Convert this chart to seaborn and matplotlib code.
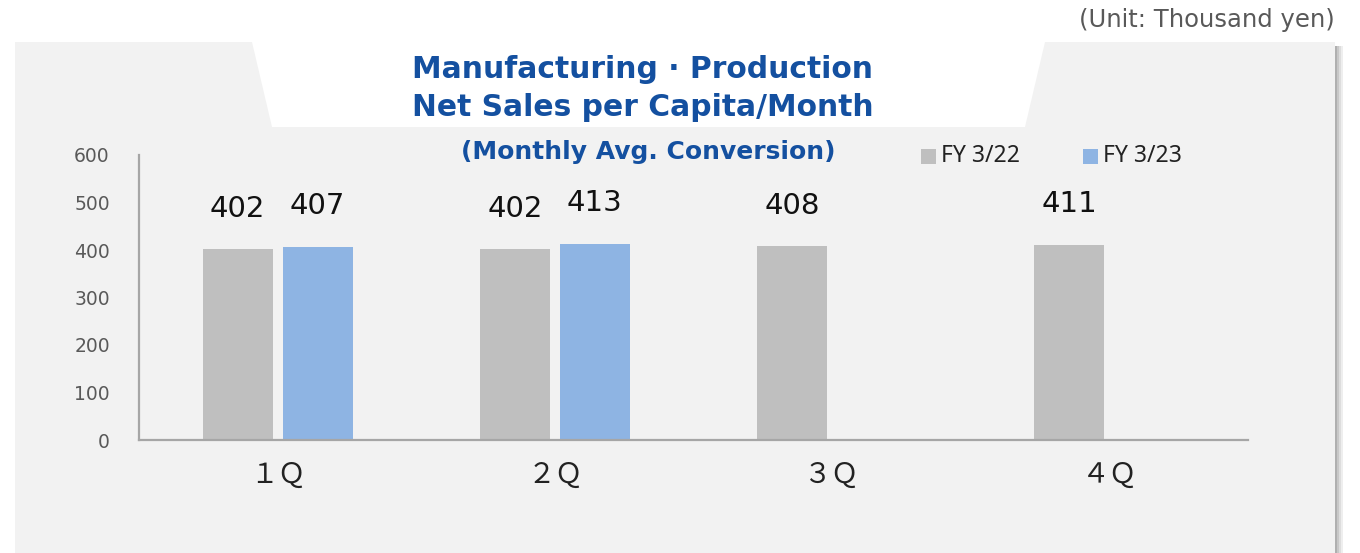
import pandas as pd
import matplotlib
matplotlib.use("Agg")
import matplotlib.pyplot as plt
import seaborn as sns
from matplotlib.patches import Polygon, Rectangle

# chart data
quarters = ["１Ｑ", "２Ｑ", "３Ｑ", "４Ｑ"]
series = ["FY 3/22", "FY 3/23"]
fy22 = [402, 402, 408, 411]
fy23 = [407, 413, None, None]
y_ticks = [0, 100, 200, 300, 400, 500, 600]

colors = {"FY 3/22": "#BFBFBF", "FY 3/23": "#8EB4E3"}
title_blue = "#1450A0"

rows = []
for q, a, b in zip(quarters, fy22, fy23):
    rows.append({"quarter": q, "series": "FY 3/22", "value": a})
    if b is not None:
        rows.append({"quarter": q, "series": "FY 3/23", "value": b})
df = pd.DataFrame(rows)

sns.set_theme(style="white")
plt.rcParams["font.family"] = ["DejaVu Sans"]

W, H = 1360, 553
fig = plt.figure(figsize=(W / 100, H / 100), dpi=100)
fig.patch.set_facecolor("white")

def fx(x):
    return x / W

def fy(y):
    return 1 - y / H

# light gray panel with the notch at the top
pts = [(15, 42), (252, 42), (272, 127), (1025, 127), (1045, 42),
       (1335, 42), (1335, 553), (15, 553)]
fig.patches.append(Polygon([(fx(x), fy(y)) for x, y in pts], closed=True,
                           transform=fig.transFigure, facecolor="#F2F2F2",
                           edgecolor="none", zorder=-5))
# soft shadow on the right edge
for i, c in enumerate(["#B0B0B0", "#C8C8C8", "#DDDDDD", "#EEEEEE"]):
    fig.patches.append(Rectangle((fx(1335 + i * 2), fy(553)), fx(2), fy(46) - fy(553),
                                 transform=fig.transFigure, facecolor=c,
                                 edgecolor="none", zorder=-5))

ax = fig.add_axes([fx(139), fy(440), fx(1248) - fx(139), fy(155) - fy(440)])
ax.set_facecolor("none")
ax.set_zorder(2)

sns.barplot(data=df, x="quarter", y="value", hue="series", order=quarters,
            hue_order=series, palette=colors, width=0.577, gap=0.125,
            ax=ax, legend=False, errorbar=None, saturation=1, linewidth=0)

for cont in ax.containers:
    ax.bar_label(cont, labels=[f"{v:.0f}" for v in cont.datavalues],
                 padding=19, fontsize=21, color="#111111")

ax.set_ylim(0, 600)
ax.set_xlim(-0.5, 3.5)
ax.set_yticks(y_ticks)
ax.set_yticklabels([str(t) for t in y_ticks], fontsize=13.5, color="#595959")
ax.tick_params(axis="y", length=0, pad=21)
ax.tick_params(axis="x", length=0, pad=14)
for lab in ax.get_xticklabels():
    lab.set_fontfamily(["Noto Sans CJK JP", "DejaVu Sans"])
    lab.set_fontsize(20)
    lab.set_color("#222222")
ax.set_xlabel("")
ax.set_ylabel("")
for s in ["top", "right"]:
    ax.spines[s].set_visible(False)
for s in ["left", "bottom"]:
    ax.spines[s].set_color("#A6A6A6")
    ax.spines[s].set_linewidth(1.6)

# titles
fig.text(fx(643), fy(70), "Manufacturing · Production", ha="center", va="center",
         fontsize=21.4, fontweight="bold", color=title_blue)
fig.text(fx(643), fy(107), "Net Sales per Capita/Month", ha="center", va="center",
         fontsize=21.4, fontweight="bold", color=title_blue)
fig.text(fx(648), fy(152), "(Monthly Avg. Conversion)", ha="center", va="center",
         fontsize=18, fontweight="bold", color=title_blue)
fig.text(fx(1335), fy(20), "(Unit: Thousand yen)", ha="right", va="center",
         fontsize=17.5, color="#595959")

# legend
for name, x0 in zip(series, [921, 1083]):
    fig.patches.append(Rectangle((fx(x0), fy(164)), fx(15), fy(149) - fy(164),
                                 transform=fig.transFigure,
                                 facecolor=colors[name], edgecolor="none"))
    fig.text(fx(x0 + 20), fy(156), name, ha="left", va="center", fontsize=16.5,
             color="#222222", family=["Noto Sans", "DejaVu Sans"])

fig.savefig("out.png", dpi=100)
